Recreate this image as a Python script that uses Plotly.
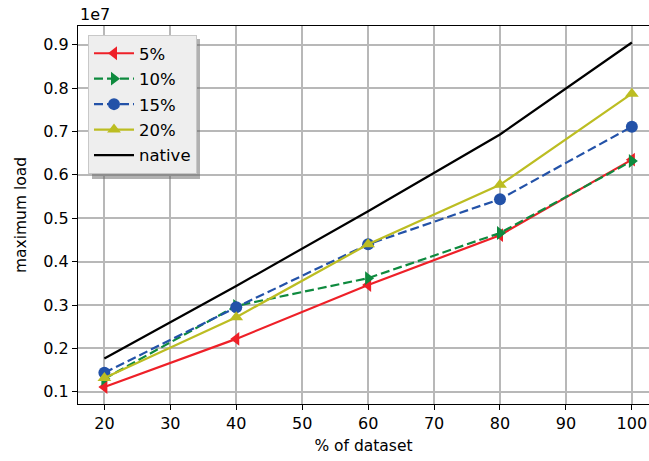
import plotly.graph_objects as go

pct = [20, 40, 60, 80, 100]
load_5 = [1.11e6, 2.22e6, 3.46e6, 4.61e6, 6.35e6]
load_10 = [1.30e6, 2.98e6, 3.62e6, 4.66e6, 6.32e6]
load_15 = [1.44e6, 2.95e6, 4.40e6, 5.44e6, 7.11e6]
load_20 = [1.32e6, 2.72e6, 4.40e6, 5.77e6, 7.87e6]
load_native = [1.77e6, 3.44e6, 5.16e6, 6.93e6, 9.05e6]

x_ticks = [20, 30, 40, 50, 60, 70, 80, 90, 100]
y_tickvals = [1e6, 2e6, 3e6, 4e6, 5e6, 6e6, 7e6, 8e6, 9e6]
y_ticktext = ["0.1", "0.2", "0.3", "0.4", "0.5", "0.6", "0.7", "0.8", "0.9"]

FONT = "DejaVu Sans"
L, R, T, B = 78, 649, 26, 404
W, H = 649, 461


def px_x(p):
    return (p - L) / (R - L)


def px_y(p):
    return (B - p) / (B - T)


fig = go.Figure()
series = [
    ("5%", load_5, "#ee2028", "solid", "triangle-left"),
    ("10%", load_10, "#0e8a3e", "9px,4px", "triangle-right"),
    ("15%", load_15, "#2352a8", "9px,4px", "circle"),
    ("20%", load_20, "#bcbd22", "solid", "triangle-up"),
]
for name, vals, col, dash, sym in series:
    fig.add_trace(go.Scatter(
        x=pct, y=vals, name=name, mode="lines+markers", legendgroup=name,
        line=dict(color=col, width=2.2, dash=dash),
        marker=dict(symbol=sym, size=12, color=col, line=dict(width=0)),
    ))
fig.add_trace(go.Scatter(
    x=pct, y=load_native, name="native", mode="lines", legendgroup="native",
    line=dict(color="black", width=2.2),
))

fig.update_layout(
    width=W, height=H,
    margin=dict(l=L, r=W - R, t=T, b=H - B),
    paper_bgcolor="white", plot_bgcolor="white",
    font=dict(family=FONT, size=16, color="black"),
    showlegend=True,
    legend=dict(
        x=px_x(88), y=px_y(35), xanchor="left", yanchor="top",
        bgcolor="rgb(238,238,238)", bordercolor="#c8c8c8", borderwidth=1,
        font=dict(family=FONT, size=16.5),
        traceorder="grouped", tracegroupgap=1, itemwidth=40,
        entrywidth=75, entrywidthmode="pixels",
    ),
    xaxis=dict(
        range=[16, 102.6], tickvals=x_ticks,
        showgrid=True, gridcolor="#b8b8b8", gridwidth=1.5,
        showline=True, linecolor="black", linewidth=1.3, mirror=True,
        ticks="outside", ticklen=5, tickcolor="black",
        zeroline=False,
        title=dict(text="% of dataset", font=dict(family=FONT, size=15.5), standoff=7),
    ),
    yaxis=dict(
        range=[0.72e6, 9.43e6], tickvals=y_tickvals, ticktext=y_ticktext,
        showgrid=True, gridcolor="#b8b8b8", gridwidth=1.5,
        showline=True, linecolor="black", linewidth=1.3,
        ticks="outside", ticklen=5, tickcolor="black",
        zeroline=False,
        title=dict(text="maximum load", font=dict(family=FONT, size=15.5), standoff=12),
    ),
    annotations=[dict(
        text="1e7", xref="paper", yref="paper", x=0, y=1.0,
        xanchor="left", yanchor="bottom", showarrow=False,
        font=dict(family=FONT, size=16),
    )],
    shapes=[dict(
        type="rect", xref="paper", yref="paper", layer="above",
        x0=px_x(92), x1=px_x(200), y0=px_y(39), y1=px_y(179),
        fillcolor="rgba(100,100,100,0.5)", line=dict(width=0),
    )],
)

fig.write_html(
    "out.html",
    config={"displayModeBar": False},
    post_script="document.body.style.margin='0';document.body.style.overflow='hidden';",
)
